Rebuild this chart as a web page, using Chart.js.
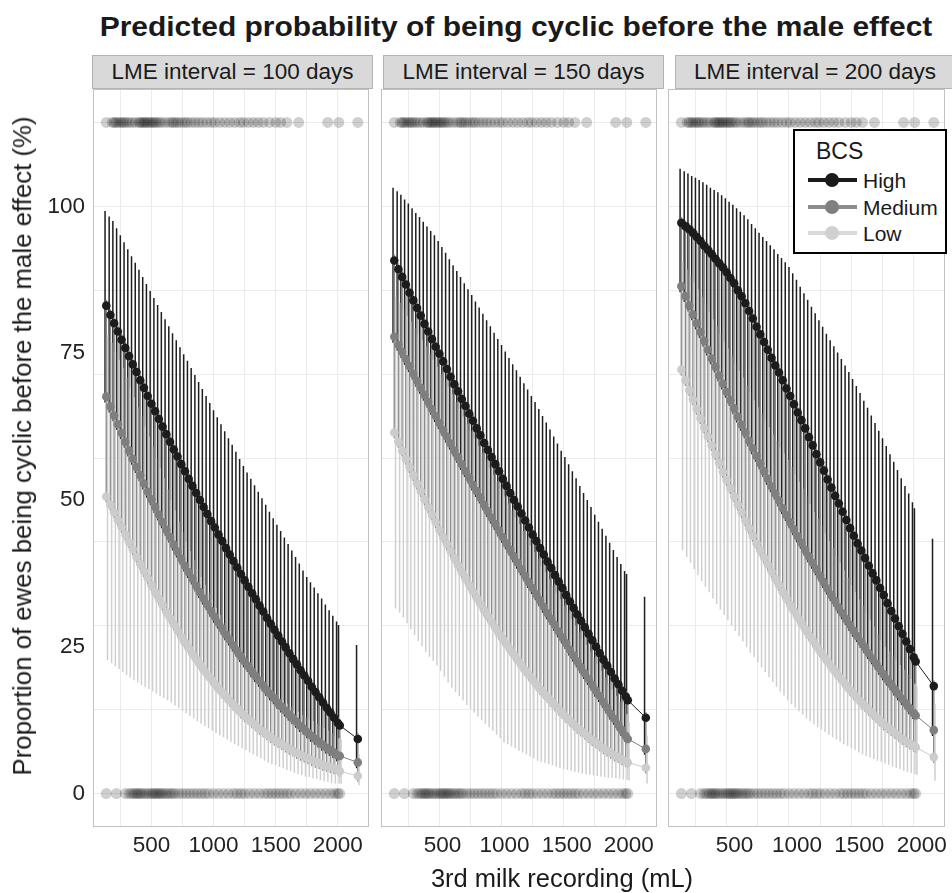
<!DOCTYPE html>
<html>
<head>
<meta charset="utf-8">
<script src="https://cdn.jsdelivr.net/npm/chart.js@4.4.1/dist/chart.umd.min.js"></script>
<style>
  body { margin: 0; background: #fff; }
  #page { position: relative; width: 952px; height: 893px; overflow: hidden; font-family: "Liberation Sans", Arial, sans-serif; color: #1a1a1a; }
  canvas { position: absolute; top: 89px; }
  .strip { position: absolute; top: 55px; height: 34px; box-sizing: border-box; background: #d9d9d9; border: 1px solid #b3b3b3; display: flex; align-items: center; justify-content: center; font-size: 22.5px; white-space: nowrap; }
  #title { position: absolute; left: 516px; top: 14px; font: bold 27px/27px "Liberation Sans", Arial, sans-serif; white-space: nowrap; transform: translateX(-50%) scaleX(1.11); }
  #xtitle { position: absolute; left: 562px; top: 866px; font-size: 25.5px; line-height: 25.5px; white-space: nowrap; transform: translateX(-50%); }
  #ytitle { position: absolute; left: 23px; top: 446px; font-size: 25.8px; line-height: 25.8px; white-space: nowrap; transform: translate(-50%, -50%) rotate(-90deg); }
  .legbox { position: absolute; box-sizing: border-box; border: 2px solid #000; background: #fff; }
  .legtext { position: absolute; white-space: nowrap; }
  .keyline { position: absolute; height: 4px; width: 49px; left: 808px; }
  .keydot { position: absolute; width: 14px; height: 14px; border-radius: 50%; left: 825px; }
</style>
</head>
<body>
<div id="page">
  <div id="title">Predicted probability of being cyclic before the male effect</div>

  <div class="strip" style="left:92px;width:281px">LME interval = 100 days</div>
  <div class="strip" style="left:383px;width:281px">LME interval = 150 days</div>
  <div class="strip" style="left:675px;width:280px">LME interval = 200 days</div>

  <canvas id="c100" width="370" height="804" style="left:0px;width:370px;height:804px"></canvas>
  <canvas id="c150" width="277" height="804" style="left:381px;width:277px;height:804px"></canvas>
  <canvas id="c200" width="278" height="804" style="left:668px;width:278px;height:804px"></canvas>

  <div class="legbox" style="left:793px;top:129px;width:154px;height:125px"></div>
  <div class="legtext" style="left:816px;top:140px;font-size:23px;line-height:23px">BCS</div>
  <div class="keyline" style="top:178px;background:#1a1a1a"></div>
  <div class="keydot" style="top:173px;background:#1a1a1a"></div>
  <div class="legtext" style="left:863px;top:169.5px;font-size:21px;line-height:21px">High</div>
  <div class="keyline" style="top:205px;background:#8c8c8c"></div>
  <div class="keydot" style="top:200px;background:#7f7f7f"></div>
  <div class="legtext" style="left:863px;top:196.5px;font-size:21px;line-height:21px">Medium</div>
  <div class="keyline" style="top:231px;background:#d9d9d9"></div>
  <div class="keydot" style="top:226px;background:#d0d0d0"></div>
  <div class="legtext" style="left:863px;top:222.5px;font-size:21px;line-height:21px">Low</div>

  <div id="xtitle">3rd milk recording (mL)</div>
  <div id="ytitle">Proportion of ewes being cyclic before the male effect (%)</div>
</div>

<script>
// milk values (mL) where the predictions are shown
const milk = [137, 170, 200, 230, 260, 290, 320, 350, 380, 410, 440, 470, 500, 530, 560, 590, 620, 650, 680, 710, 740, 770, 800, 830, 860, 890, 920, 950, 980, 1010, 1040, 1070, 1100, 1130, 1160, 1190, 1220, 1250, 1280, 1310, 1340, 1370, 1400, 1430, 1460, 1490, 1520, 1550, 1580, 1610, 1640, 1670, 1700, 1730, 1760, 1790, 1820, 1850, 1880, 1910, 1940, 1970, 2000, 2016, 2161];

// LME interval = 100 days
const high100   = [83.1, 81.5, 80.1, 78.7, 77.3, 75.9, 74.5, 73.1, 71.8, 70.4, 69.1, 67.7, 66.4, 65.1, 63.8, 62.5, 61.2, 59.9, 58.6, 57.4, 56.1, 54.9, 53.6, 52.4, 51.2, 50.0, 48.8, 47.6, 46.4, 45.3, 44.1, 43.0, 41.8, 40.7, 39.6, 38.5, 37.4, 36.3, 35.2, 34.1, 33.1, 32.0, 31.0, 29.9, 28.9, 27.9, 26.9, 25.9, 24.9, 23.9, 22.9, 22.0, 21.0, 20.1, 19.2, 18.2, 17.3, 16.4, 15.5, 14.6, 13.8, 12.9, 12.0, 11.6, 9.3];
const high100Lo = [66.6, 64.9, 63.4, 61.9, 60.4, 58.9, 57.4, 56.0, 54.6, 53.2, 51.8, 50.4, 49.1, 47.8, 46.5, 45.2, 43.9, 42.7, 41.4, 40.2, 39.0, 37.8, 36.7, 35.6, 34.4, 33.3, 32.2, 31.2, 30.1, 29.1, 28.1, 27.1, 26.1, 25.2, 24.2, 23.3, 22.4, 21.5, 20.7, 19.8, 19.0, 18.2, 17.4, 16.6, 15.9, 15.2, 14.4, 13.8, 13.1, 12.4, 11.8, 11.2, 10.5, 10.0, 9.4, 8.8, 8.3, 7.8, 7.3, 6.8, 6.4, 6.0, 5.5, 5.4, 4.3];
const high100Hi = [99.2, 98.3, 97.5, 96.3, 95.1, 93.9, 92.7, 91.5, 90.4, 89.2, 88.0, 86.8, 85.6, 84.4, 83.2, 82.0, 80.8, 79.6, 78.4, 77.2, 76.0, 74.8, 73.7, 72.5, 71.3, 70.1, 68.9, 67.7, 66.5, 65.3, 64.1, 62.9, 61.7, 60.5, 59.4, 58.2, 57.0, 55.8, 54.7, 53.6, 52.5, 51.4, 50.3, 49.2, 48.0, 46.9, 45.8, 44.7, 43.6, 42.5, 41.4, 40.3, 39.2, 38.0, 36.9, 36.0, 35.1, 34.1, 33.2, 32.2, 31.2, 30.3, 29.3, 28.7, 25.3];
const med100    = [67.6, 65.9, 64.4, 62.9, 61.4, 59.9, 58.4, 57.0, 55.6, 54.2, 52.8, 51.4, 50.1, 48.8, 47.5, 46.2, 44.9, 43.7, 42.4, 41.2, 40.0, 38.8, 37.7, 36.6, 35.4, 34.3, 33.2, 32.2, 31.1, 30.1, 29.1, 28.1, 27.1, 26.2, 25.2, 24.3, 23.4, 22.5, 21.7, 20.8, 20.0, 19.2, 18.4, 17.6, 16.9, 16.2, 15.4, 14.8, 14.1, 13.4, 12.8, 12.2, 11.5, 11.0, 10.4, 9.8, 9.3, 8.8, 8.3, 7.8, 7.4, 7.0, 6.5, 6.4, 5.3];
const med100Lo  = [49.6, 48.2, 46.9, 45.6, 44.4, 43.1, 41.8, 40.6, 39.3, 38.1, 36.9, 35.7, 34.5, 33.3, 32.2, 31.1, 29.9, 28.9, 27.8, 26.8, 25.7, 24.7, 23.8, 22.8, 21.9, 21.0, 20.1, 19.3, 18.5, 17.7, 16.9, 16.2, 15.5, 14.8, 14.1, 13.5, 12.8, 12.2, 11.7, 11.1, 10.6, 10.0, 9.6, 9.1, 8.6, 8.2, 7.8, 7.4, 7.0, 6.6, 6.3, 5.9, 5.6, 5.3, 5.0, 4.7, 4.4, 4.2, 3.9, 3.7, 3.5, 3.3, 3.1, 2.8, 2.0];
const med100Hi  = [84.1, 82.5, 81.1, 79.7, 78.3, 76.9, 75.5, 74.1, 72.8, 71.4, 70.1, 68.7, 67.4, 66.1, 64.8, 63.5, 62.2, 60.9, 59.6, 58.4, 57.1, 55.9, 54.6, 53.4, 52.2, 51.0, 49.8, 48.6, 47.4, 46.3, 45.1, 44.0, 42.8, 41.7, 40.6, 39.5, 38.4, 37.3, 36.2, 35.1, 34.1, 33.0, 32.0, 30.9, 29.9, 28.9, 27.9, 26.9, 25.9, 24.9, 23.9, 23.0, 22.0, 21.1, 20.2, 19.2, 18.3, 17.4, 16.5, 15.6, 14.8, 13.9, 13.0, 12.6, 10.3];
const low100    = [50.6, 49.2, 47.9, 46.6, 45.4, 44.1, 42.8, 41.6, 40.3, 39.1, 37.9, 36.7, 35.5, 34.3, 33.2, 32.1, 30.9, 29.9, 28.8, 27.8, 26.7, 25.7, 24.8, 23.8, 22.9, 22.0, 21.1, 20.3, 19.5, 18.7, 17.9, 17.2, 16.5, 15.8, 15.1, 14.5, 13.8, 13.2, 12.7, 12.1, 11.6, 11.0, 10.6, 10.1, 9.6, 9.2, 8.8, 8.4, 8.0, 7.6, 7.3, 6.9, 6.6, 6.3, 6.0, 5.7, 5.4, 5.2, 4.9, 4.7, 4.5, 4.3, 4.1, 3.8, 3.0];
const low100Lo  = [22.7, 22.2, 21.7, 21.2, 20.7, 20.2, 19.7, 19.3, 18.9, 18.5, 18.1, 17.8, 17.4, 17.0, 16.6, 16.3, 15.9, 15.5, 15.0, 14.6, 14.1, 13.7, 13.2, 12.8, 12.3, 11.9, 11.5, 11.1, 10.7, 10.3, 9.9, 9.6, 9.2, 8.8, 8.4, 8.1, 7.7, 7.4, 7.0, 6.7, 6.3, 6.0, 5.6, 5.3, 5.0, 4.8, 4.5, 4.3, 4.0, 3.8, 3.5, 3.3, 3.1, 2.9, 2.8, 2.6, 2.5, 2.3, 2.1, 2.0, 1.8, 1.7, 1.7, 1.6, 1.4];
const low100Hi  = [78.1, 76.8, 75.3, 73.9, 72.5, 70.9, 69.2, 67.5, 65.8, 64.2, 62.5, 60.8, 59.1, 57.1, 55.5, 53.7, 51.8, 50.0, 48.2, 46.3, 44.5, 42.9, 41.3, 39.8, 38.3, 36.9, 35.5, 34.2, 32.9, 31.6, 30.4, 29.1, 27.9, 26.7, 25.6, 24.5, 23.5, 22.5, 21.6, 20.9, 20.2, 19.4, 18.7, 18.1, 17.5, 16.9, 16.3, 15.8, 15.3, 14.8, 14.3, 13.9, 13.4, 13.0, 12.6, 12.3, 11.9, 11.5, 11.1, 10.7, 10.3, 9.8, 9.4, 9.2, 6.7];

// LME interval = 150 days
const high150   = [90.8, 89.3, 88.0, 86.7, 85.3, 84.0, 82.7, 81.4, 80.0, 78.7, 77.4, 76.1, 74.9, 73.6, 72.3, 71.0, 69.7, 68.5, 67.2, 66.0, 64.7, 63.5, 62.2, 61.0, 59.7, 58.5, 57.3, 56.1, 54.9, 53.6, 52.4, 51.2, 50.0, 48.9, 47.7, 46.5, 45.3, 44.1, 43.0, 41.8, 40.7, 39.5, 38.4, 37.2, 36.1, 35.0, 33.8, 32.7, 31.6, 30.5, 29.4, 28.3, 27.2, 26.1, 25.0, 23.9, 22.8, 21.8, 20.7, 19.6, 18.6, 17.5, 16.5, 15.9, 12.9];
const high150Lo = [76.8, 75.4, 74.2, 73.0, 71.8, 70.5, 69.3, 68.1, 66.9, 65.7, 64.5, 63.3, 62.1, 60.9, 59.8, 58.6, 57.4, 56.3, 55.1, 53.9, 52.8, 51.6, 50.5, 49.4, 48.2, 47.1, 46.0, 44.9, 43.8, 42.7, 41.6, 40.5, 39.4, 38.3, 37.2, 36.1, 35.0, 34.0, 32.9, 31.9, 30.8, 29.7, 28.7, 27.7, 26.6, 25.6, 24.6, 23.5, 22.5, 21.5, 20.5, 19.5, 18.5, 17.5, 16.5, 15.6, 14.6, 13.6, 12.6, 11.7, 10.7, 9.8, 8.8, 8.3, 6.6];
const high150Hi = [103.2, 102.6, 102.0, 101.2, 100.5, 99.7, 98.9, 98.2, 97.4, 96.6, 95.8, 95.1, 94.1, 93.1, 92.1, 91.0, 90.0, 89.0, 88.0, 86.9, 85.9, 84.9, 83.8, 82.8, 81.7, 80.6, 79.6, 78.5, 77.4, 76.4, 75.3, 74.2, 73.1, 72.1, 71.0, 69.9, 68.8, 67.7, 66.7, 65.5, 64.3, 63.2, 62.0, 60.8, 59.6, 58.4, 57.3, 56.1, 54.9, 53.7, 52.4, 51.2, 50.0, 48.8, 47.5, 46.3, 45.1, 43.9, 42.7, 41.5, 40.3, 39.1, 37.9, 37.4, 33.5];
const med150    = [77.8, 76.4, 75.2, 74.0, 72.8, 71.5, 70.3, 69.1, 67.9, 66.7, 65.5, 64.3, 63.1, 61.9, 60.8, 59.6, 58.4, 57.3, 56.1, 54.9, 53.8, 52.6, 51.5, 50.4, 49.2, 48.1, 47.0, 45.9, 44.8, 43.7, 42.6, 41.5, 40.4, 39.3, 38.2, 37.1, 36.0, 35.0, 33.9, 32.9, 31.8, 30.7, 29.7, 28.7, 27.6, 26.6, 25.6, 24.5, 23.5, 22.5, 21.5, 20.5, 19.5, 18.5, 17.5, 16.6, 15.6, 14.6, 13.6, 12.7, 11.7, 10.8, 9.8, 9.3, 7.6];
const med150Lo  = [60.5, 58.9, 57.4, 56.0, 54.6, 53.2, 51.8, 50.5, 49.1, 47.8, 46.5, 45.2, 43.9, 42.7, 41.5, 40.3, 39.1, 37.9, 36.7, 35.6, 34.5, 33.4, 32.3, 31.3, 30.2, 29.2, 28.2, 27.2, 26.2, 25.3, 24.4, 23.5, 22.6, 21.7, 20.8, 20.0, 19.2, 18.4, 17.6, 16.8, 16.1, 15.4, 14.7, 14.0, 13.3, 12.7, 12.0, 11.4, 10.8, 10.2, 9.7, 9.2, 8.6, 8.1, 7.7, 7.2, 6.7, 6.3, 5.9, 5.5, 5.2, 4.8, 4.5, 4.3, 3.4];
const med150Hi  = [91.8, 90.3, 89.0, 87.7, 86.3, 85.0, 83.7, 82.4, 81.0, 79.7, 78.4, 77.1, 75.9, 74.6, 73.3, 72.0, 70.7, 69.5, 68.2, 67.0, 65.7, 64.5, 63.2, 62.0, 60.7, 59.5, 58.3, 57.1, 55.9, 54.6, 53.4, 52.2, 51.0, 49.9, 48.7, 47.5, 46.3, 45.1, 44.0, 42.8, 41.7, 40.5, 39.4, 38.2, 37.1, 36.0, 34.8, 33.7, 32.6, 31.5, 30.4, 29.3, 28.2, 27.1, 26.0, 24.9, 23.8, 22.8, 21.7, 20.6, 19.6, 18.5, 17.5, 16.9, 13.9];
const low150    = [61.5, 59.9, 58.4, 57.0, 55.6, 54.2, 52.8, 51.5, 50.1, 48.8, 47.5, 46.2, 44.9, 43.7, 42.5, 41.3, 40.1, 38.9, 37.7, 36.6, 35.5, 34.4, 33.3, 32.3, 31.2, 30.2, 29.2, 28.2, 27.2, 26.3, 25.4, 24.5, 23.6, 22.7, 21.8, 21.0, 20.2, 19.4, 18.6, 17.8, 17.1, 16.4, 15.7, 15.0, 14.3, 13.7, 13.0, 12.4, 11.8, 11.2, 10.7, 10.2, 9.6, 9.1, 8.7, 8.2, 7.7, 7.3, 6.9, 6.5, 6.2, 5.8, 5.5, 5.3, 4.4];
const low150Lo  = [31.5, 30.8, 30.0, 29.0, 28.0, 27.0, 26.0, 25.1, 24.1, 23.3, 22.6, 21.8, 20.9, 19.9, 18.9, 18.0, 17.3, 16.6, 15.9, 15.1, 14.4, 13.8, 13.1, 12.5, 11.9, 11.3, 10.7, 10.0, 9.4, 8.7, 8.4, 8.0, 7.7, 7.3, 7.0, 6.7, 6.3, 6.0, 5.6, 5.4, 5.2, 5.0, 4.8, 4.6, 4.3, 4.2, 4.0, 3.9, 3.7, 3.6, 3.4, 3.3, 3.2, 3.1, 3.0, 2.9, 2.8, 2.7, 2.7, 2.6, 2.5, 2.4, 2.3, 2.2, 1.7];
const low150Hi  = [84.7, 83.6, 82.5, 81.4, 80.4, 79.3, 78.3, 77.2, 76.1, 75.0, 73.9, 72.7, 71.4, 70.2, 69.3, 68.0, 66.7, 65.5, 64.2, 63.0, 61.7, 60.5, 59.2, 58.0, 56.7, 55.5, 54.3, 53.1, 51.9, 50.6, 49.4, 48.2, 47.0, 45.9, 44.7, 43.5, 42.3, 41.1, 40.0, 38.8, 37.7, 36.5, 35.4, 34.2, 33.1, 32.0, 30.8, 29.7, 28.6, 27.5, 26.4, 25.3, 24.2, 23.1, 22.0, 20.9, 19.8, 18.8, 17.7, 16.6, 15.6, 14.5, 13.5, 12.2, 9.9];

// LME interval = 200 days
const high200   = [97.2, 96.6, 96.1, 95.5, 94.8, 94.1, 93.3, 92.6, 91.9, 91.1, 90.3, 89.6, 88.8, 87.8, 86.9, 85.7, 84.7, 83.5, 82.2, 80.9, 79.5, 78.2, 76.9, 75.6, 74.2, 72.9, 71.7, 70.4, 69.0, 67.7, 66.3, 64.9, 63.6, 62.2, 60.7, 59.3, 57.8, 56.4, 55.0, 53.5, 52.1, 50.7, 49.4, 48.0, 46.6, 45.2, 43.9, 42.6, 41.4, 40.1, 38.8, 37.5, 36.3, 35.0, 33.8, 32.4, 31.1, 29.8, 28.5, 27.2, 25.9, 24.6, 23.2, 22.5, 18.3];
const high200Lo = [85.4, 83.7, 82.1, 80.6, 79.1, 77.6, 76.1, 74.6, 73.1, 71.7, 70.2, 68.8, 67.4, 66.0, 64.6, 63.2, 61.8, 60.5, 59.1, 57.8, 56.5, 55.2, 53.9, 52.6, 51.3, 50.1, 48.9, 47.6, 46.4, 45.2, 44.0, 42.8, 41.7, 40.5, 39.4, 38.3, 37.2, 36.1, 35.0, 33.9, 32.8, 31.8, 30.7, 29.7, 28.7, 27.7, 26.7, 25.8, 24.8, 23.9, 22.9, 22.0, 21.1, 20.2, 19.3, 18.4, 17.6, 16.7, 15.9, 15.1, 14.3, 13.5, 12.7, 12.3, 9.8];
const high200Hi = [106.4, 106.0, 105.6, 105.2, 104.9, 104.5, 104.1, 103.7, 103.2, 102.8, 102.4, 101.9, 101.4, 100.8, 100.3, 99.7, 99.1, 98.5, 97.8, 97.0, 96.3, 95.5, 94.8, 94.1, 93.4, 92.7, 91.9, 91.2, 90.5, 89.7, 88.6, 87.5, 86.3, 85.2, 84.1, 82.9, 81.8, 80.6, 79.5, 78.3, 77.2, 76.2, 75.1, 74.0, 72.9, 71.8, 70.6, 69.4, 68.2, 66.9, 65.7, 64.4, 63.1, 61.8, 60.5, 59.2, 57.8, 56.5, 55.1, 53.7, 52.4, 51.1, 49.6, 48.6, 43.4];
const med200    = [86.4, 84.7, 83.1, 81.6, 80.1, 78.6, 77.1, 75.6, 74.1, 72.7, 71.2, 69.8, 68.4, 67.0, 65.6, 64.2, 62.8, 61.5, 60.1, 58.8, 57.5, 56.2, 54.9, 53.6, 52.3, 51.1, 49.9, 48.6, 47.4, 46.2, 45.0, 43.8, 42.7, 41.5, 40.4, 39.3, 38.2, 37.1, 36.0, 34.9, 33.8, 32.8, 31.7, 30.7, 29.7, 28.7, 27.7, 26.8, 25.8, 24.9, 23.9, 23.0, 22.1, 21.2, 20.3, 19.4, 18.6, 17.7, 16.9, 16.1, 15.3, 14.5, 13.7, 13.3, 10.8];
const med200Lo  = [71.2, 69.4, 67.7, 66.1, 64.5, 62.9, 61.3, 59.8, 58.3, 56.8, 55.3, 53.8, 52.4, 51.0, 49.6, 48.2, 46.9, 45.5, 44.2, 42.9, 41.6, 40.4, 39.2, 38.0, 36.8, 35.6, 34.5, 33.3, 32.2, 31.1, 30.1, 29.0, 28.0, 27.0, 26.0, 25.1, 24.1, 23.2, 22.3, 21.5, 20.6, 19.8, 19.0, 18.2, 17.4, 16.6, 15.9, 15.2, 14.5, 13.9, 13.2, 12.6, 12.0, 11.4, 10.8, 10.3, 9.8, 9.3, 8.8, 8.3, 7.9, 7.5, 7.1, 6.9, 5.2];
const med200Hi  = [98.2, 97.6, 97.1, 96.5, 95.8, 95.1, 94.3, 93.6, 92.9, 92.1, 91.3, 90.6, 89.8, 88.8, 87.9, 86.7, 85.7, 84.5, 83.2, 81.9, 80.5, 79.2, 77.9, 76.6, 75.2, 73.9, 72.7, 71.4, 70.0, 68.7, 67.3, 65.9, 64.6, 63.2, 61.7, 60.3, 58.8, 57.4, 56.0, 54.5, 53.1, 51.7, 50.4, 49.0, 47.6, 46.2, 44.9, 43.6, 42.4, 41.1, 39.8, 38.5, 37.3, 36.0, 34.8, 33.4, 32.1, 30.8, 29.5, 28.2, 26.9, 25.6, 24.2, 23.5, 19.3];
const low200    = [72.2, 70.4, 68.7, 67.1, 65.5, 63.9, 62.3, 60.8, 59.3, 57.8, 56.3, 54.8, 53.4, 52.0, 50.6, 49.2, 47.9, 46.5, 45.2, 43.9, 42.6, 41.4, 40.2, 39.0, 37.8, 36.6, 35.5, 34.3, 33.2, 32.1, 31.1, 30.0, 29.0, 28.0, 27.0, 26.1, 25.1, 24.2, 23.3, 22.5, 21.6, 20.8, 20.0, 19.2, 18.4, 17.6, 16.9, 16.2, 15.5, 14.9, 14.2, 13.6, 13.0, 12.4, 11.8, 11.3, 10.8, 10.3, 9.8, 9.3, 8.9, 8.5, 8.1, 7.9, 6.2];
const low200Lo  = [41.5, 40.3, 39.3, 38.2, 37.2, 36.2, 35.2, 34.3, 33.2, 32.3, 31.3, 30.4, 29.5, 28.6, 27.7, 26.8, 25.9, 24.9, 24.0, 23.2, 22.3, 21.5, 20.7, 19.8, 19.0, 18.2, 17.4, 16.7, 15.9, 15.2, 14.6, 14.0, 13.4, 12.8, 12.3, 11.8, 11.3, 10.9, 10.5, 10.0, 9.6, 9.2, 8.8, 8.4, 8.1, 7.7, 7.4, 7.0, 6.7, 6.4, 6.2, 5.9, 5.6, 5.4, 5.1, 4.9, 4.6, 4.4, 4.2, 3.9, 3.7, 3.5, 3.3, 3.2, 2.2];
const low200Hi  = [90.5, 89.3, 88.2, 87.1, 85.9, 84.6, 83.4, 82.1, 80.8, 79.6, 78.3, 77.0, 75.8, 74.6, 73.3, 72.0, 70.8, 69.6, 68.3, 67.0, 65.8, 64.7, 63.5, 62.4, 61.2, 60.1, 59.0, 57.9, 56.8, 55.6, 54.4, 53.1, 51.9, 50.6, 49.3, 48.0, 46.8, 45.5, 44.3, 43.0, 41.8, 40.5, 39.3, 38.0, 36.8, 35.5, 34.3, 33.1, 32.0, 30.8, 29.6, 28.4, 27.2, 26.1, 25.0, 24.2, 23.4, 22.7, 21.9, 21.1, 20.3, 19.5, 18.7, 18.2, 15.3];

// observed ewes: milk of the cyclic ones (drawn on top) and non cyclic ones (drawn at 0)
const cyclicMilk = [137, 185, 200, 215, 230, 250, 265, 280, 300, 320, 345, 370, 400, 410, 425, 440, 450, 465, 480, 495, 510, 525, 540, 560, 580, 610, 640, 665, 680, 700, 720, 745, 770, 790, 820, 850, 880, 910, 945, 980, 1010, 1050, 1090, 1130, 1170, 1210, 1240, 1280, 1320, 1360, 1400, 1450, 1500, 1540, 1590, 1685, 1919, 2008, 2161];
const notCyclicMilk = [137, 218, 290, 320, 340, 360, 375, 390, 405, 420, 440, 460, 480, 500, 515, 530, 545, 560, 575, 590, 610, 630, 650, 670, 690, 720, 750, 780, 810, 840, 870, 900, 930, 960, 1000, 1040, 1080, 1120, 1160, 1190, 1220, 1250, 1290, 1330, 1370, 1410, 1440, 1470, 1500, 1530, 1560, 1590, 1620, 1660, 1700, 1740, 1780, 1820, 1860, 1900, 1940, 1975, 2000, 2016];
const cyclicLevel = 114.3;
const notCyclicLevel = 0;

// axis breaks and labels
const xGridBreaks = [250, 500, 750, 1000, 1250, 1500, 1750, 2000, 2250];
const xTickLabels = [500, 1000, 1500, 2000];
const yGridBreaks = [0, 14.29, 28.57, 42.86, 57.14, 71.43, 85.71, 100, 114.29];
const yTickLabels = [0, 25, 50, 75, 100];

Chart.defaults.font.family = '"Liberation Sans", Arial, sans-serif';
Chart.defaults.color = '#222';

const HIGH = '#1c1c1c', MED = '#7f7f7f', LOW = '#cccccc';
const HIGH_BAR = '#1e1e1e', MED_BAR = '#8c8c8c', LOW_BAR = '#cfcfcf';

// vertical interval lines, drawn under the points
const errorBars = {
  id: 'errorBars',
  beforeDatasetsDraw(chart, args, opts) {
    const { ctx, chartArea: a, scales: { x, y } } = chart;
    ctx.save();
    ctx.beginPath();
    ctx.rect(a.left, a.top, a.right - a.left, a.bottom - a.top);
    ctx.clip();
    ctx.lineWidth = opts.width;
    opts.sets.forEach(s => {
      ctx.strokeStyle = s.color;
      ctx.beginPath();
      milk.forEach((m, i) => {
        const px = x.getPixelForValue(m) + s.dodge;
        ctx.moveTo(px, y.getPixelForValue(s.hi[i]));
        ctx.lineTo(px, y.getPixelForValue(s.lo[i]));
      });
      ctx.stroke();
    });
    ctx.restore();
  }
};

const panelBorder = {
  id: 'panelBorder',
  afterDatasetsDraw(chart) {
    const { ctx, chartArea: a } = chart;
    ctx.save();
    ctx.strokeStyle = '#c2c2c2';
    ctx.lineWidth = 1;
    ctx.strokeRect(a.left + 0.5, a.top + 0.5, a.right - a.left - 1, a.bottom - a.top - 1);
    ctx.restore();
  }
};

function meanLine(label, ys, color, order) {
  return {
    label: label,
    data: milk.map((m, i) => ({ x: m, y: ys[i] })),
    showLine: true,
    borderColor: color,
    borderWidth: 1,
    backgroundColor: color,
    pointBackgroundColor: color,
    pointBorderWidth: 0,
    pointRadius: 4.3,
    order: order
  };
}

function rug(xs, level) {
  return {
    data: xs.map(m => ({ x: m, y: level })),
    showLine: false,
    backgroundColor: 'rgba(0,0,0,0.19)',
    pointBorderWidth: 0,
    pointRadius: 5.5,
    order: 10
  };
}

function makePanel(id, d, withYLabels, labelOffset) {
  const scales = {
    x: {
      type: 'linear', min: 30, max: 2251,
      afterBuildTicks: s => { s.ticks = xGridBreaks.map(v => ({ value: v })); },
      afterFit: s => { s.height = 66; s.paddingLeft = 0; s.paddingRight = 0; },
      ticks: {
        autoSkip: false, maxRotation: 0, padding: 5, labelOffset: labelOffset,
        font: { size: 22.5 }, color: '#222',
        callback: v => xTickLabels.includes(v) ? String(v) : ''
      },
      grid: { color: '#ebebeb', drawTicks: false },
      border: { display: false }
    },
    y: {
      type: 'linear', position: 'left', min: -5.7, max: 120,
      afterBuildTicks: s => { s.ticks = yGridBreaks.map(v => ({ value: v })); },
      afterFit: s => { s.width = 0; s.paddingTop = 0; s.paddingBottom = 0; },
      ticks: { display: false },
      grid: { color: '#ebebeb', drawTicks: false },
      border: { display: false }
    }
  };
  if (withYLabels) {
    scales.yl = {
      type: 'linear', position: 'left', min: -5.7, max: 120,
      afterBuildTicks: s => { s.ticks = yTickLabels.map(v => ({ value: v })); },
      afterFit: s => { s.width = 93; s.paddingTop = 0; s.paddingBottom = 0; },
      ticks: { padding: 8, font: { size: 22.5 }, color: '#222' },
      grid: { display: false, drawTicks: false },
      border: { display: false }
    };
  }

  return new Chart(document.getElementById(id), {
    type: 'scatter',
    data: {
      datasets: [
        meanLine('High', d.high, HIGH, 1),
        meanLine('Medium', d.med, MED, 2),
        meanLine('Low', d.low, LOW, 3),
        rug(cyclicMilk, cyclicLevel),
        rug(notCyclicMilk, notCyclicLevel)
      ]
    },
    options: {
      responsive: false,
      animation: false,
      devicePixelRatio: 1,
      events: [],
      layout: { autoPadding: false, padding: { left: 0, right: 1, top: 0, bottom: 0 } },
      scales: scales,
      plugins: {
        legend: { display: false },
        tooltip: { enabled: false },
        errorBars: {
          width: 1.5,
          sets: [
            { lo: d.highLo, hi: d.highHi, color: HIGH_BAR, dodge: -1.25 },
            { lo: d.medLo, hi: d.medHi, color: MED_BAR, dodge: 0 },
            { lo: d.lowLo, hi: d.lowHi, color: LOW_BAR, dodge: 1.25 }
          ]
        }
      }
    },
    plugins: [errorBars, panelBorder]
  });
}

makePanel('c100', {
  high: high100, highLo: high100Lo, highHi: high100Hi,
  med: med100, medLo: med100Lo, medHi: med100Hi,
  low: low100, lowLo: low100Lo, lowHi: low100Hi
}, true, 0);

makePanel('c150', {
  high: high150, highLo: high150Lo, highHi: high150Hi,
  med: med150, medLo: med150Lo, medHi: med150Hi,
  low: low150, lowLo: low150Lo, lowHi: low150Hi
}, false, 3);

makePanel('c200', {
  high: high200, highLo: high200Lo, highHi: high200Hi,
  med: med200, medLo: med200Lo, medHi: med200Hi,
  low: low200, lowLo: low200Lo, lowHi: low200Hi
}, false, 8);
</script>
</body>
</html>
